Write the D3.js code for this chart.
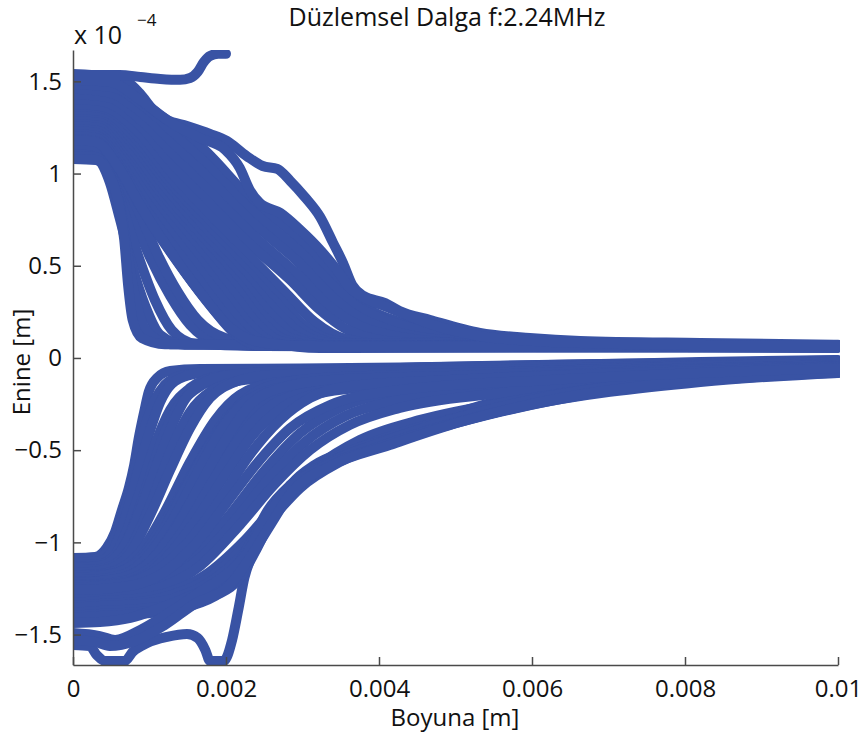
<!DOCTYPE html>
<html>
<head>
<meta charset="utf-8">
<script src="https://cdn.jsdelivr.net/npm/d3@7"></script>
<style>
  body { margin: 0; background: #fff; }
  text { font-family: "Open Sans", "Noto Sans", sans-serif; }
</style>
</head>
<body>
<svg id="chart" width="862" height="740"></svg>
<script>
// Particle trajectories, each point is [x in mm, y in 1e-4 m]
const exitTrack = [
  [[0,1.535],[0.35,1.535],[0.61,1.535],[0.88,1.524],[1.14,1.513],[1.40,1.508],[1.53,1.518],[1.63,1.551],[1.71,1.605],[1.79,1.638],[1.90,1.649],[2.0,1.649]]
];

const upperOuter = [
  [[0,1.540],[0.48,1.524],[0.71,1.497],[0.88,1.432],[1.05,1.345],[1.23,1.291],[1.49,1.258],[1.79,1.215],[2.01,1.177],[2.27,1.095],[2.48,1.041],[2.67,1.025],[2.84,0.960],[3.03,0.873],[3.23,0.765],[3.40,0.624],[3.53,0.515],[3.65,0.396],[3.80,0.336],[4.08,0.298],[4.27,0.255],[4.67,0.206],[5.32,0.136],[5.97,0.108],[6.63,0.092],[8.20,0.081],[10,0.072]],
  [[0,1.508],[0.48,1.497],[0.88,1.399],[1.27,1.280],[1.66,1.193],[1.99,1.128],[2.18,1.030],[2.31,0.911],[2.44,0.841],[2.71,0.786],[2.97,0.694],[3.23,0.586],[3.45,0.477],[3.62,0.380],[3.82,0.325],[4.14,0.271],[4.67,0.184],[5.32,0.119],[6.24,0.087],[8.20,0.070],[10,0.065]]
];

const upperDiagonal = [
  [[0,1.486],[0.48,1.470],[0.88,1.383],[1.27,1.269],[1.66,1.150],[2.31,0.868],[2.97,0.640],[3.36,0.466],[3.62,0.342],[3.88,0.260],[4.27,0.195],[4.93,0.130],[5.84,0.092],[10,0.065]],
  [[0,1.459],[0.48,1.442],[0.88,1.356],[1.27,1.226],[1.66,1.085],[2.31,0.808],[2.97,0.575],[3.36,0.407],[3.69,0.287],[4.01,0.217],[4.54,0.152],[5.32,0.103],[6.89,0.076],[10,0.062]],
  [[0,1.432],[0.48,1.415],[0.88,1.312],[1.27,1.166],[1.66,1.020],[2.31,0.748],[2.97,0.510],[3.36,0.342],[3.69,0.233],[4.14,0.152],[4.93,0.098],[10,0.062]],
  [[0,1.405],[0.42,1.388],[0.81,1.291],[1.27,1.106],[1.66,0.954],[2.31,0.683],[2.97,0.439],[3.36,0.277],[3.75,0.174],[4.27,0.114],[5.32,0.076],[10,0.060]],
  [[0,1.377],[0.42,1.361],[0.81,1.247],[1.27,1.047],[1.66,0.889],[2.31,0.618],[2.84,0.423],[3.23,0.260],[3.62,0.146],[4.27,0.087],[10,0.060]],
  [[0,1.350],[0.35,1.339],[0.75,1.236],[1.20,1.020],[1.66,0.824],[2.31,0.553],[2.77,0.358],[3.16,0.195],[3.56,0.103],[4.27,0.068],[10,0.060]],
  [[0,1.323],[0.35,1.312],[0.75,1.193],[1.20,0.965],[1.66,0.759],[2.31,0.488],[2.71,0.315],[3.03,0.174],[3.43,0.092],[4.27,0.065],[10,0.060]],
  [[0,1.312],[0.35,1.302],[0.73,1.177],[1.16,0.949],[1.66,0.727],[2.29,0.461],[2.68,0.287],[3.01,0.152],[3.43,0.081],[4.27,0.060],[10,0.057]],
  [[0,1.296],[0.35,1.285],[0.72,1.155],[1.14,0.933],[1.66,0.694],[2.25,0.439],[2.64,0.260],[2.97,0.136],[3.36,0.080],[10,0.060]],
  [[0,1.285],[0.35,1.274],[0.69,1.144],[1.11,0.922],[1.66,0.662],[2.22,0.412],[2.58,0.239],[2.90,0.119],[3.43,0.065],[10,0.057]],
  [[0,1.269],[0.35,1.258],[0.68,1.128],[1.07,0.911],[1.66,0.629],[2.18,0.390],[2.51,0.217],[2.84,0.108],[3.36,0.068],[10,0.060]],
  [[0,1.258],[0.34,1.247],[0.65,1.112],[1.03,0.900],[1.66,0.597],[2.16,0.363],[2.47,0.195],[2.77,0.098],[3.36,0.060],[10,0.057]],
  [[0,1.242],[0.33,1.231],[0.64,1.095],[1.01,0.884],[1.66,0.564],[2.12,0.336],[2.42,0.179],[2.71,0.092],[3.23,0.065],[10,0.060]],
  [[0,1.231],[0.31,1.220],[0.63,1.079],[0.98,0.868],[1.63,0.537],[2.05,0.315],[2.35,0.163],[2.64,0.081],[3.23,0.054],[10,0.057]],
  [[0,1.215],[0.31,1.204],[0.61,1.063],[0.94,0.857],[1.59,0.510],[1.99,0.298],[2.29,0.146],[2.58,0.076],[3.23,0.062],[10,0.060]],
  [[0,1.204],[0.30,1.193],[0.60,1.047],[0.90,0.841],[1.53,0.488],[1.90,0.282],[2.21,0.136],[2.51,0.070],[10,0.057]],
  [[0,1.188],[0.30,1.177],[0.59,1.036],[0.88,0.824],[1.46,0.466],[1.82,0.271],[2.12,0.130],[2.44,0.068],[10,0.060]],
  [[0,1.182],[0.30,1.171],[0.60,1.030],[0.90,0.813],[1.37,0.521],[1.71,0.331],[2.03,0.174],[2.38,0.092],[2.97,0.065],[10,0.057]]
];

const upperSteep = [
  [[0,1.171],[0.30,1.160],[0.61,1.030],[0.94,0.803],[1.27,0.586],[1.59,0.396],[1.92,0.233],[2.31,0.119],[2.97,0.070],[10,0.060]],
  [[0,1.160],[0.29,1.150],[0.55,1.009],[0.75,0.803],[1.01,0.542],[1.27,0.336],[1.53,0.179],[1.86,0.087],[2.44,0.065],[10,0.060]],
  [[0,1.150],[0.29,1.139],[0.59,1.009],[0.85,0.803],[1.11,0.559],[1.37,0.358],[1.63,0.206],[1.99,0.108],[2.58,0.070],[10,0.060]],
  [[0,1.133],[0.29,1.123],[0.52,0.976],[0.68,0.775],[0.88,0.521],[1.07,0.315],[1.29,0.152],[1.60,0.078],[2.44,0.065],[10,0.060]],
  [[0,1.106],[0.27,1.095],[0.48,0.954],[0.61,0.759],[0.77,0.504],[0.94,0.287],[1.14,0.125],[1.46,0.072],[10,0.060]],
  [[0,1.095],[0.29,1.090],[0.51,0.965],[0.64,0.775],[0.73,0.521],[0.82,0.315],[0.98,0.136],[1.27,0.075],[10,0.060]],
  [[0,1.079],[0.30,1.074],[0.48,0.987],[0.60,0.830],[0.67,0.640],[0.72,0.396],[0.78,0.206],[0.90,0.108],[1.20,0.075],[10,0.060]]
];

const lowerSteep = [
  [[0,-1.085],[0.29,-1.079],[0.44,-1.030],[0.55,-0.944],[0.64,-0.824],[0.73,-0.705],[0.80,-0.580],[0.86,-0.434],[0.93,-0.293],[0.99,-0.184],[1.10,-0.108],[1.27,-0.070],[1.66,-0.060],[2.97,-0.057],[4.27,-0.052],[5.58,-0.043],[6.89,-0.033],[8.20,-0.022],[10,-0.011]],
  [[0,-1.095],[0.30,-1.090],[0.48,-1.030],[0.61,-0.906],[0.75,-0.716],[0.85,-0.526],[0.95,-0.363],[1.07,-0.228],[1.20,-0.146],[1.40,-0.098],[1.79,-0.076],[2.97,-0.065],[10,-0.014]],
  [[0,-1.112],[0.35,-1.101],[0.51,-1.052],[0.61,-0.960],[0.75,-0.770],[0.88,-0.564],[1.01,-0.390],[1.14,-0.239],[1.29,-0.141],[1.53,-0.092],[1.92,-0.070],[2.97,-0.063],[4.27,-0.057],[5.58,-0.049],[8.20,-0.027],[10,-0.016]],
  [[0,-1.123],[0.35,-1.117],[0.55,-1.068],[0.68,-0.960],[0.88,-0.716],[1.07,-0.472],[1.27,-0.282],[1.53,-0.163],[1.92,-0.098],[2.97,-0.070],[10,-0.019]],
  [[0,-1.133],[0.35,-1.128],[0.56,-1.085],[0.72,-0.976],[0.94,-0.727],[1.16,-0.445],[1.37,-0.266],[1.61,-0.168],[1.99,-0.108],[3.23,-0.076],[10,-0.022]],
  [[0,-1.139],[0.35,-1.128],[0.55,-1.085],[0.68,-1.014],[0.88,-0.824],[1.07,-0.607],[1.27,-0.390],[1.46,-0.228],[1.66,-0.146],[2.05,-0.092],[2.97,-0.070],[4.27,-0.065],[5.58,-0.057],[8.20,-0.033],[10,-0.022]],
  [[0,-1.150],[0.35,-1.144],[0.59,-1.106],[0.75,-1.030],[1.01,-0.797],[1.27,-0.510],[1.53,-0.293],[1.79,-0.184],[2.25,-0.119],[3.23,-0.087],[10,-0.024]],
  [[0,-1.166],[0.35,-1.155],[0.59,-1.122],[0.75,-1.057],[1.01,-0.851],[1.27,-0.607],[1.53,-0.380],[1.79,-0.217],[2.12,-0.130],[2.58,-0.092],[3.62,-0.076],[5.58,-0.065],[8.20,-0.038],[10,-0.027]],
  [[0,-1.177],[0.35,-1.171],[0.61,-1.144],[0.88,-1.052],[1.20,-0.835],[1.53,-0.564],[1.86,-0.336],[2.18,-0.201],[2.71,-0.130],[4.27,-0.098],[10,-0.033]],
  [[0,-1.182],[0.35,-1.177],[0.64,-1.155],[0.94,-1.052],[1.33,-0.797],[1.66,-0.553],[1.99,-0.336],[2.34,-0.206],[2.84,-0.141],[4.54,-0.103],[10,-0.035]],
  [[0,-1.193],[0.35,-1.182],[0.61,-1.160],[0.88,-1.095],[1.14,-0.960],[1.46,-0.716],[1.79,-0.472],[2.12,-0.282],[2.44,-0.174],[2.97,-0.119],[4.27,-0.092],[6.24,-0.070],[8.20,-0.043],[10,-0.033]],
  [[0,-1.204],[0.35,-1.198],[0.68,-1.171],[0.98,-1.074],[1.29,-0.889],[1.63,-0.618],[1.95,-0.380],[2.29,-0.228],[2.84,-0.152],[4.93,-0.108],[10,-0.038]],
  [[0,-1.215],[0.35,-1.210],[0.72,-1.182],[1.07,-1.074],[1.46,-0.835],[1.82,-0.580],[2.16,-0.363],[2.51,-0.228],[3.10,-0.157],[5.32,-0.114],[10,-0.041]],
  [[0,-1.220],[0.35,-1.210],[0.68,-1.188],[1.01,-1.106],[1.33,-0.933],[1.66,-0.689],[1.99,-0.445],[2.31,-0.255],[2.71,-0.163],[3.36,-0.119],[4.93,-0.098],[6.89,-0.070],[10,-0.038]],
  [[0,-1.231],[0.35,-1.226],[0.75,-1.198],[1.11,-1.106],[1.46,-0.922],[1.82,-0.672],[2.16,-0.445],[2.51,-0.282],[2.97,-0.195],[4.27,-0.136],[6.89,-0.092],[10,-0.043]],
  [[0,-1.236],[0.35,-1.231],[0.77,-1.209],[1.18,-1.101],[1.59,-0.889],[1.99,-0.634],[2.34,-0.423],[2.73,-0.271],[3.23,-0.190],[4.54,-0.136],[10,-0.046]],
  [[0,-1.247],[0.35,-1.236],[0.75,-1.215],[1.14,-1.139],[1.53,-0.987],[1.92,-0.770],[2.31,-0.526],[2.71,-0.336],[3.10,-0.217],[3.62,-0.152],[4.93,-0.119],[6.89,-0.087],[10,-0.049]],
  [[0,-1.258],[0.35,-1.253],[0.81,-1.231],[1.20,-1.160],[1.59,-1.014],[1.99,-0.797],[2.42,-0.564],[2.84,-0.380],[3.36,-0.255],[4.27,-0.174],[6.24,-0.119],[10,-0.054]]
];

const lowerDiagonal = [
  [[0,-1.275],[0.35,-1.264],[0.75,-1.247],[1.14,-1.193],[1.59,-1.068],[2.05,-0.851],[2.51,-0.607],[2.97,-0.407],[3.49,-0.271],[4.27,-0.184],[5.58,-0.136],[8.20,-0.076],[10,-0.054]],
  [[0,-1.285],[0.35,-1.280],[0.75,-1.264],[1.18,-1.215],[1.63,-1.095],[2.12,-0.879],[2.58,-0.645],[3.03,-0.456],[3.56,-0.315],[4.27,-0.228],[5.58,-0.163],[8.20,-0.081],[10,-0.057]],
  [[0,-1.302],[0.35,-1.291],[0.75,-1.280],[1.20,-1.236],[1.66,-1.128],[2.18,-0.906],[2.64,-0.683],[3.10,-0.499],[3.62,-0.363],[4.27,-0.271],[5.58,-0.190],[8.20,-0.087],[10,-0.060]],
  [[0,-1.329],[0.35,-1.318],[0.81,-1.307],[1.27,-1.269],[1.73,-1.177],[2.25,-0.987],[2.71,-0.770],[3.16,-0.597],[3.75,-0.445],[4.54,-0.336],[5.84,-0.228],[8.20,-0.103],[10,-0.065]],
  [[0,-1.345],[0.35,-1.334],[0.85,-1.323],[1.29,-1.285],[1.76,-1.198],[2.25,-1.019],[2.68,-0.813],[3.07,-0.651],[3.62,-0.510],[4.41,-0.390],[5.71,-0.260],[8.20,-0.108],[10,-0.068]],
  [[0,-1.356],[0.35,-1.345],[0.88,-1.334],[1.33,-1.302],[1.79,-1.215],[2.25,-1.052],[2.64,-0.851],[2.97,-0.705],[3.49,-0.564],[4.27,-0.445],[5.58,-0.293],[8.20,-0.114],[10,-0.070]],
  [[0,-1.383],[0.35,-1.372],[0.88,-1.361],[1.40,-1.329],[1.86,-1.247],[2.18,-1.122],[2.42,-0.960],[2.64,-0.797],[2.97,-0.651],[3.49,-0.526],[4.27,-0.423],[5.32,-0.298],[6.89,-0.184],[8.20,-0.119],[10,-0.076]],
  [[0,-1.399],[0.35,-1.388],[0.88,-1.377],[1.40,-1.345],[1.86,-1.269],[2.18,-1.160],[2.41,-1.014],[2.61,-0.851],[2.90,-0.689],[3.36,-0.564],[4.08,-0.456],[4.93,-0.347],[6.10,-0.239],[8.20,-0.119],[10,-0.076]],
  [[0,-1.410],[0.35,-1.399],[0.88,-1.388],[1.40,-1.361],[1.86,-1.291],[2.18,-1.193],[2.38,-1.052],[2.58,-0.889],[2.84,-0.732],[3.23,-0.607],[3.88,-0.488],[4.67,-0.374],[5.84,-0.249],[8.20,-0.125],[10,-0.079]],
  [[0,-1.437],[0.35,-1.432],[0.75,-1.410],[1.14,-1.356],[1.53,-1.291],[1.86,-1.231],[2.14,-1.128],[2.34,-0.987],[2.55,-0.824],[2.84,-0.689],[3.36,-0.564],[4.01,-0.461],[4.93,-0.336],[6.24,-0.206],[8.20,-0.108],[10,-0.070]],
  [[0,-1.492],[0.35,-1.508],[0.55,-1.529],[0.88,-1.475],[1.27,-1.378],[1.66,-1.269],[1.99,-1.177],[2.25,-1.074],[2.51,-0.879],[2.77,-0.727],[3.23,-0.597],[3.88,-0.499],[4.67,-0.390],[5.84,-0.266],[8.20,-0.130],[10,-0.081]],
  [[0,-1.529],[0.29,-1.540],[0.48,-1.562],[0.81,-1.535],[1.20,-1.448],[1.59,-1.334],[2.05,-1.231],[2.31,-1.085],[2.58,-0.906],[2.86,-0.727],[3.36,-0.586],[4.14,-0.472],[5.06,-0.347],[6.37,-0.217],[8.20,-0.119],[10,-0.076]]
];

const lowerFloor = [
  [[0,-1.557],[0.22,-1.562],[0.31,-1.611],[0.42,-1.643],[0.68,-1.643],[0.78,-1.594],[0.97,-1.546],[1.23,-1.513],[1.49,-1.497],[1.63,-1.519],[1.73,-1.584],[1.79,-1.643],[1.97,-1.643],[2.08,-1.529],[2.16,-1.367],[2.24,-1.193],[2.34,-1.068],[2.48,-0.933],[2.68,-0.797],[2.86,-0.683],[3.16,-0.580],[3.58,-0.504],[4.10,-0.434],[4.67,-0.352],[5.32,-0.260],[6.24,-0.190],[8.20,-0.103],[10,-0.081]]
];

const xTickValues = [0, 0.002, 0.004, 0.006, 0.008, 0.01];
const xTickLabels = ["0", "0.002", "0.004", "0.006", "0.008", "0.01"];
const yTickValues = [-1.5, -1, -0.5, 0, 0.5, 1, 1.5];
const yTickLabels = ["\u22121.5", "\u22121", "\u22120.5", "0", "0.5", "1", "1.5"];
const titleText = "Düzlemsel Dalga f:2.24MHz";
const xLabelText = "Boyuna [m]";
const yLabelText = "Enine [m]";

const W = 862, H = 740;
const plotL = 73, plotR = 838, plotT = 50, plotB = 665;
const lineColor = "#3953a4";
const axisColor = "#4a4a4a";

const svg = d3.select("#chart");
svg.append("rect").attr("width", W).attr("height", H).attr("fill", "#fff");

const x = d3.scaleLinear().domain([0, 0.01]).range([plotL, plotR]);
const y = d3.scaleLinear().domain([-1.665e-4, 1.67e-4]).range([plotB, plotT]);

svg.append("clipPath").attr("id", "plotClip")
  .append("rect").attr("x", plotL).attr("y", plotT).attr("width", plotR - plotL + 2).attr("height", plotB - plotT);

const line = d3.line()
  .x(d => x(d[0] * 1e-3))
  .y(d => y(d[1] * 1e-4))
  .curve(d3.curveMonotoneX);

const tracks = [].concat(lowerFloor, lowerDiagonal, lowerSteep, upperSteep, upperDiagonal, upperOuter, exitTrack);

svg.append("g").attr("clip-path", "url(#plotClip)")
  .selectAll("path").data(tracks).join("path")
  .attr("d", line)
  .attr("fill", "none")
  .attr("stroke", lineColor)
  .attr("stroke-width", 10)
  .attr("stroke-linejoin", "round")
  .attr("stroke-linecap", "round");

// Axes with inward ticks (left and bottom only)
const yAxis = d3.axisLeft(y)
  .tickValues(yTickValues.map(v => v * 1e-4))
  .tickFormat((d, i) => yTickLabels[i])
  .tickSizeInner(-8).tickSizeOuter(0).tickPadding(11);
const gy = svg.append("g").attr("transform", `translate(${plotL},0)`).call(yAxis);

const xAxis = d3.axisBottom(x)
  .tickValues(xTickValues)
  .tickFormat((d, i) => xTickLabels[i])
  .tickSizeInner(-8).tickSizeOuter(0).tickPadding(15);
const gx = svg.append("g").attr("transform", `translate(0,${plotB})`).call(xAxis);

[gx, gy].forEach(g => {
  g.attr("font-family", null).attr("font-size", null);
  g.select(".domain").attr("stroke", axisColor).attr("stroke-width", 1.5);
  g.selectAll(".tick line").attr("stroke", axisColor).attr("stroke-width", 1.5);
  g.selectAll(".tick text").attr("fill", "#111").style("font-size", "24px");
});

// Exponent marker for the y axis
svg.append("text").attr("x", 74).attr("y", 44).attr("fill", "#111").style("font-size", "25px").text("x 10");
svg.append("text").attr("x", 137).attr("y", 26).attr("fill", "#111").style("font-size", "17px").text("\u22124");

// Title and axis labels
svg.append("text").attr("x", 447).attr("y", 26).attr("text-anchor", "middle")
  .attr("fill", "#111").style("font-size", "25px").text(titleText);
svg.append("text").attr("x", 455).attr("y", 726).attr("text-anchor", "middle")
  .attr("fill", "#111").style("font-size", "24px").text(xLabelText);
svg.append("text").attr("transform", "translate(30,362) rotate(-90)").attr("text-anchor", "middle")
  .attr("fill", "#111").style("font-size", "24px").text(yLabelText);
</script>
</body>
</html>
